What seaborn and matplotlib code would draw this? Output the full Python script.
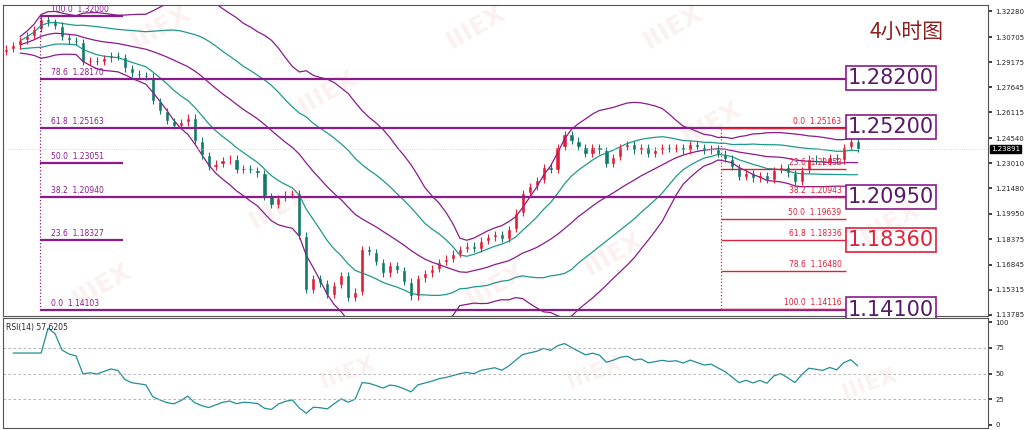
import numpy as np, pandas as pd
import matplotlib
matplotlib.use("Agg")
import matplotlib.pyplot as plt
import seaborn as sns

closes = [1.300,1.302,1.305,1.308,1.312,1.318,1.316,1.314,1.307,1.305,1.304,1.292,1.293,1.292,1.294,1.296,1.295,1.288,1.285,1.284,
1.283,1.268,1.262,1.256,1.253,1.255,1.258,1.244,1.235,1.228,1.230,1.232,1.233,1.226,1.227,1.226,1.224,1.210,1.205,1.209,
1.211,1.212,1.186,1.153,1.160,1.157,1.150,1.156,1.162,1.148,1.152,1.178,1.176,1.170,1.163,1.168,1.165,1.158,1.149,1.160,
1.163,1.166,1.170,1.172,1.175,1.178,1.180,1.178,1.183,1.185,1.187,1.184,1.190,1.200,1.212,1.216,1.220,1.228,1.226,1.240,
1.248,1.244,1.240,1.236,1.240,1.238,1.230,1.234,1.240,1.242,1.238,1.240,1.236,1.238,1.240,1.239,1.240,1.238,1.242,1.240,
1.238,1.239,1.236,1.233,1.228,1.222,1.224,1.221,1.223,1.220,1.226,1.228,1.224,1.219,1.226,1.233,1.232,1.231,1.234,1.232,
1.240,1.244,1.23891]
price_ticks = [1.32280,1.30705,1.29175,1.27645,1.26115,1.24540,1.23010,1.21480,1.19950,1.18375,1.16845,1.15315,1.13785]
left_fib = [("100.0",1.32000),("78.6",1.28170),("61.8",1.25163),("50.0",1.23051),("38.2",1.20940),("23.6",1.18327),("0.0",1.14103)]
right_fib = [("0.0",1.25163),("23.6",1.22653),("38.2",1.20943),("50.0",1.19639),("61.8",1.18336),("78.6",1.16480),("100.0",1.14116)]
key_levels = [("1.28200",1.2820,"#8b1a8b"),("1.25200",1.2520,"#8b1a8b"),("1.20950",1.2095,"#8b1a8b"),("1.18360",1.1836,"#e0203a"),("1.14100",1.1410,"#8b1a8b")]
rsi_ticks = [100,75,50,25,0]

sns.set_theme(style="white")
plt.rcParams['font.family'] = ['Noto Sans CJK SC','DejaVu Sans']

c = pd.Series(closes)
o = c.shift(1).fillna(c.iloc[0]-0.002)
n = len(c)
idx = np.arange(n)
fig = plt.figure(figsize=(10.24,4.3), dpi=100)
ax = fig.add_axes([0.003,0.265,0.962,0.723])
ax2 = fig.add_axes([0.003,0.005,0.962,0.255])
xlim = (-0.45, 140.7)
PUR = "#8b1a8b"; TEAL = "#1f9a8a"; RED = "#e0203a"

mid = c.rolling(24, min_periods=3).mean()
sd = c.rolling(24, min_periods=3).std()
ax.plot(idx, mid, color=PUR, lw=0.9)
for k, col in [(2.0, PUR),(1.0, TEAL)]:
    ax.plot(idx, mid + k*sd, color=col, lw=0.9)
    ax.plot(idx, mid - k*sd, color=col, lw=0.9)

for i in range(n):
    up = c[i] >= o[i]
    col = RED if up else "#127a6a"
    lo, hi = min(o[i], c[i]), max(o[i], c[i])
    ax.vlines(i, lo-0.002, hi+0.002, color=col, lw=0.8)
    ax.bar(i, max(hi-lo, 0.0005), bottom=lo, width=0.6, color=col)

fx0, fx1, fend = 4.9, 16.7, 120.3
ax.vlines(fx0, 1.1410, 1.3200, color=PUR, lw=0.9, linestyles=":")
long_levels = {"78.6","61.8","38.2","0.0"}
for lab, v in left_fib:
    ax.hlines(v, fx0, fend if lab in long_levels else fx1, color=PUR, lw=1.6)
    ax.text(fx0+1.5, v+0.0012, f"{lab}  {v:.5f}", fontsize=5.5, color=PUR, va="bottom", family="DejaVu Sans")
rx0 = 102.4
ax.vlines(rx0, 1.1412, 1.2516, color=RED, lw=0.9, linestyles=":")
for lab, v in right_fib:
    ax.hlines(v, rx0, fend, color=RED, lw=1.0)
    ax.text(fend-0.6, v+0.0012, f"{lab}  {v:.5f}", fontsize=5.5, color=RED, va="bottom", ha="right", family="DejaVu Sans")
for t, v, col in key_levels:
    ax.text(fend+0.3, v, t, fontsize=15, color=col if col != PUR else "#5a1a6a", va="center", ha="left",
            family="DejaVu Sans", bbox=dict(boxstyle="square,pad=0.1", fc="white", ec=col, lw=1.2))
ax.axhline(closes[-1], color="#cccccc", lw=0.6, ls=":")
ax.text(1.003, closes[-1], f"{closes[-1]:.5f}", transform=ax.get_yaxis_transform(), fontsize=5, color="white",
        va="center", ha="left", family="DejaVu Sans", bbox=dict(boxstyle="square,pad=0.15", fc="black", ec="black"))
ax.text(0.955, 0.95, "4小时图", transform=ax.transAxes, fontsize=15, color="#8b2020", ha="right", va="top")
for (wx, wy) in [(0.16,0.93),(0.48,0.93),(0.68,0.93),(0.33,0.72),(0.72,0.62),(0.1,0.1),(0.5,0.1),(0.9,0.3),(0.28,0.35),(0.62,0.2)]:
    ax.text(wx, wy, "IIIEX", transform=ax.transAxes, fontsize=18, color="#e05050", alpha=0.08, rotation=30,
            ha="center", va="center", weight="bold", family="DejaVu Sans")

ax.set_xlim(*xlim); ax.set_ylim(1.13705, 1.32650)
ax.yaxis.tick_right(); ax.set_yticks(price_ticks)
ax.set_yticklabels([f"{t:.5f}" for t in price_ticks], fontsize=5, family="DejaVu Sans")
ax.set_xticks([])
ax.tick_params(axis="y", length=3, pad=2)
for s in ax.spines.values(): s.set_color("#555555"); s.set_linewidth(0.8)

d = c.diff()
g = d.clip(lower=0).ewm(alpha=1/14, adjust=False).mean()
l = (-d.clip(upper=0)).ewm(alpha=1/14, adjust=False).mean()
rsi = 100 - 100/(1 + g/l.replace(0, np.nan))
rsi = rsi.fillna(70)
ax2.plot(idx[1:], rsi[1:], color="#1f8f9a", lw=0.9)
for lv in [75, 50, 25]:
    ax2.axhline(lv, color="#aaaaaa", lw=0.6, ls=(0,(3,3)))
ax2.set_xlim(*xlim); ax2.set_ylim(-3, 104)
ax2.yaxis.tick_right(); ax2.set_yticks(rsi_ticks)
ax2.set_yticklabels([str(t) for t in rsi_ticks], fontsize=5, family="DejaVu Sans")
ax2.set_xticks(np.arange(0, 141, 8)); ax2.set_xticklabels([])
ax2.tick_params(axis="both", length=3, pad=2)
ax2.text(0.003, 0.96, f"RSI(14) {rsi.iloc[-1]:.4f}", transform=ax2.transAxes, fontsize=5.5, va="top", family="DejaVu Sans")
for (wx, wy) in [(0.35,0.5),(0.6,0.5),(0.88,0.4)]:
    ax2.text(wx, wy, "IIIEX", transform=ax2.transAxes, fontsize=16, color="#e05050", alpha=0.08, rotation=20,
             ha="center", va="center", weight="bold", family="DejaVu Sans")
for s in ax2.spines.values(): s.set_color("#555555"); s.set_linewidth(0.8)
fig.savefig("out.png", dpi=100)
